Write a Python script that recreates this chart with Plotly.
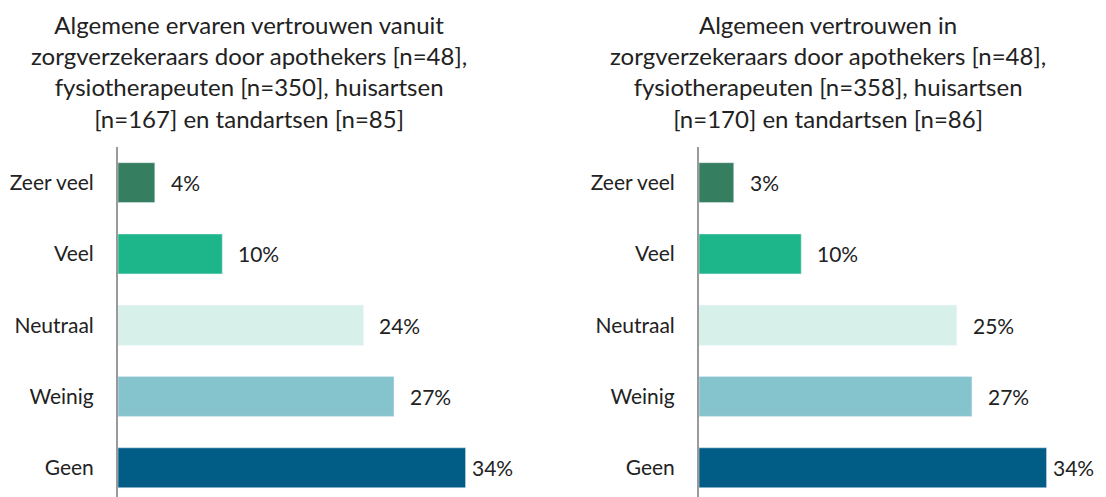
import plotly.graph_objects as go

categories = ["Zeer veel", "Veel", "Neutraal", "Weinig", "Geen"]
left_values = [3.6, 10.2, 24.0, 27.0, 34.0]
left_labels = ["4%", "10%", "24%", "27%", "34%"]
right_values = [3.4, 10.0, 25.2, 26.7, 34.0]
right_labels = ["3%", "10%", "25%", "27%", "34%"]
bar_colors = ["#357e5f", "#1db68b", "#d7f1ea", "#86c4cd", "#015c86"]
left_title = ("Algemene ervaren vertrouwen vanuit<br>zorgverzekeraars door apothekers [n=48],"
              "<br>fysiotherapeuten [n=350], huisartsen<br>[n=167] en tandartsen [n=85]")
right_title = ("Algemeen vertrouwen in<br>zorgverzekeraars door apothekers [n=48],"
               "<br>fysiotherapeuten [n=358], huisartsen<br>[n=170] en tandartsen [n=86]")

# page has an 8px body margin, so the figure is drawn 8px right/down
W, H = 1098, 489
FONT = "Lato, 'Open Sans', sans-serif"

fig = go.Figure()
fig.add_trace(go.Bar(y=categories, x=left_values, orientation="h", marker_color=bar_colors,
                     xaxis="x", yaxis="y", hoverinfo="skip", showlegend=False))
fig.add_trace(go.Bar(y=categories, x=right_values, orientation="h", marker_color=bar_colors,
                     xaxis="x2", yaxis="y2", hoverinfo="skip", showlegend=False))

annotations = []
for xref, yref, vals, labs in [("x", "y", left_values, left_labels),
                               ("x2", "y2", right_values, right_labels)]:
    for c, v, t in zip(categories, vals, labs):
        annotations.append(dict(x=v, y=c, xref=xref, yref=yref, text=t, showarrow=False,
                                xanchor="left", yanchor="middle",
                                xshift=14 if v < 30 else 4,
                                font=dict(size=21, color="#222222", family=FONT)))

annotations.append(dict(x=241 / W, y=1.0, xref="paper", yref="paper", text=left_title,
                        showarrow=False, xanchor="center", yanchor="top", align="center",
                        font=dict(size=24, color="#222222", family=FONT)))
annotations.append(dict(x=820 / W, y=1.0, xref="paper", yref="paper", text=right_title,
                        showarrow=False, xanchor="center", yanchor="top", align="center",
                        font=dict(size=24, color="#222222", family=FONT)))

yrange = [4.41, -0.5]
axis_common = dict(showgrid=False, zeroline=False, showticklabels=False, fixedrange=True)
yaxis_common = dict(showgrid=False, zeroline=False, showline=True, linecolor="#9a9a9a",
                    linewidth=2, ticks="", ticklabelstandoff=18, range=yrange,
                    tickfont=dict(size=21, color="#222222", family=FONT))

fig.update_layout(
    width=W, height=H,
    margin=dict(l=0, r=0, t=0, b=0),
    paper_bgcolor="white", plot_bgcolor="white",
    bargap=0.44,
    xaxis=dict(domain=[110 / W, 478 / W], range=[0, 36], **axis_common),
    xaxis2=dict(domain=[691 / W, 1059 / W], range=[0, 36], **axis_common),
    yaxis=dict(domain=[0, (H - 139) / H], anchor="x", **yaxis_common),
    yaxis2=dict(domain=[0, (H - 139) / H], anchor="x2", **yaxis_common),
    annotations=annotations,
    font=dict(family=FONT),
)

fig.write_html("out.html")
